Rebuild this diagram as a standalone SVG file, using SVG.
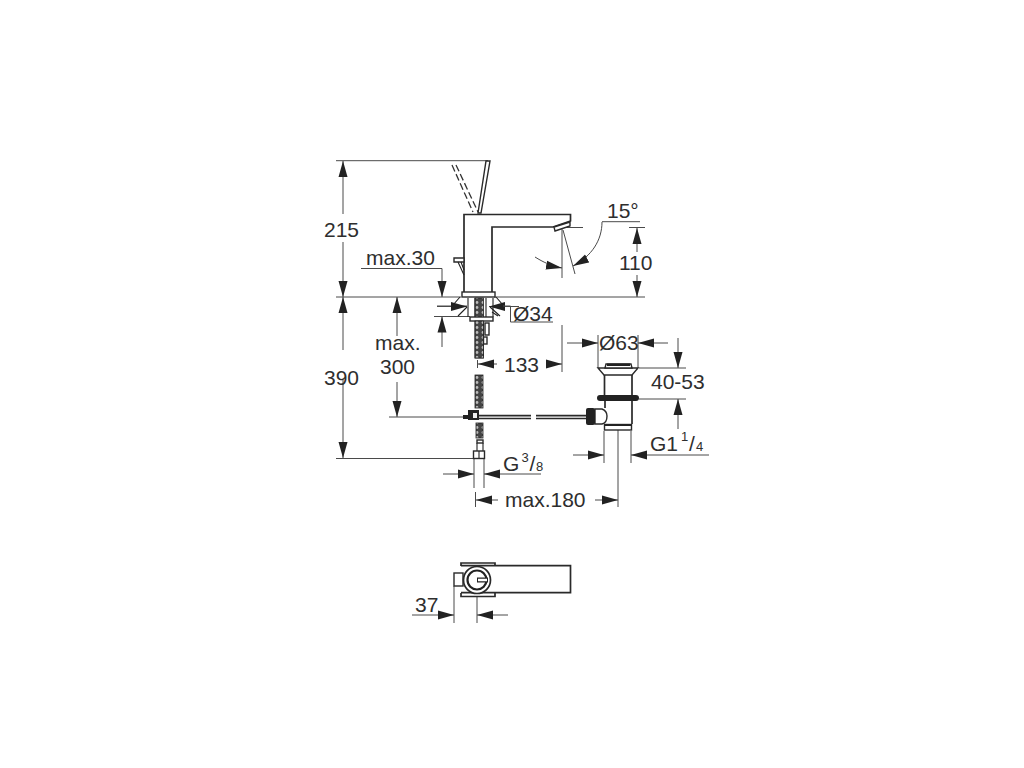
<svg xmlns="http://www.w3.org/2000/svg" width="1024" height="768" viewBox="0 0 1024 768">
<style>
.t{font-family:"Liberation Sans",Arial,sans-serif;font-size:21px;fill:#2e2e2e}
.s{font-size:13px}
.d{fill:none;stroke:#4a4a4a;stroke-width:1}
.o{fill:none;stroke:#2a2a2a;stroke-width:1.7}
.h{fill:none;stroke:#222;stroke-width:1.1}
.f{fill:#fff;stroke:#2a2a2a;stroke-width:1.4}
.b{fill:#222;stroke:none}
.a{stroke:#4a4a4a;stroke-width:1;fill:none;marker-end:url(#ar)}
</style>
<defs>
<marker id="ar" markerUnits="userSpaceOnUse" markerWidth="16" markerHeight="10" refX="16" refY="5" orient="auto"><path d="M0 .5 L16 5 L0 9.500Z" fill="#222"/></marker>
<pattern id="hose" width="6" height="5" patternUnits="userSpaceOnUse"><rect width="6" height="5" fill="#444"/><circle cx="3" cy="2.500" r="1.400" fill="#bbb"/></pattern>
</defs>
<rect width="1024" height="768" fill="#fff"/>
<g id="connectors">
<path class="d" d="M336 160.700H488M336 297H461M494 297H645M336 458.500H473"/>
<path class="a" d="M343 214V161"/><path class="a" d="M343 242V297"/>
<path class="a" d="M343 350V297"/><path class="a" d="M343 379V458"/>
<path class="d" d="M361 268.500H442"/><path class="a" d="M442 268.500V297"/>
<path class="a" d="M397 336V297"/><path class="a" d="M397 382V417"/>
<path class="d" d="M389 417H463"/>
<path class="d" d="M437 306H467M434 316.500H470"/><path class="a" d="M442 347V316.500"/>
<path class="a" d="M437 306.500H467"/><path class="a" d="M519 306.500H489"/>
<path class="d" d="M503 306H510.500V322H553"/>
<path class="d" d="M477.500 360V368M475.500 492V507M474 458V488M484 458V488"/>
<path class="a" d="M497 364H478"/>
<path class="a" d="M547 364H562"/>
<path class="d" d="M562 325V372"/>
<path class="a" d="M443 474H474"/><path class="a" d="M541 474H484"/>
<path class="a" d="M498 500H476"/><path class="a" d="M595 500H618"/>
<path class="d" d="M618 424V507"/>
<path class="d" d="M598 335V368M638 335V368"/>
<path class="a" d="M567 343H598"/><path class="a" d="M668 343H638"/>
<path class="d" d="M639 368H686M639 399H686"/>
<path class="a" d="M678 338V368"/><path class="a" d="M678 429V399"/>
<path class="d" d="M604 431V463M631 431V463"/>
<path class="a" d="M573 455H604"/><path class="a" d="M709 455H631"/>
<path class="d" d="M560 227.500H583"/>
<path class="d" d="M562 229V278M563 230L575 274"/>
<path class="a" d="M602 222C602 240 592 256 573 266"/>
<path class="d" d="M602 221.700H640"/>
<path class="a" d="M535 257C543 262 551 266 562 268"/>
<path class="d" d="M629 227.500H645"/>
<path class="a" d="M637 252V228"/><path class="a" d="M637 275V297"/>
<path class="d" d="M454 586V623M477 597V623"/>
<path class="a" d="M412 615H454"/><path class="a" d="M508 615H477"/>
</g>
<g id="faucet">
<path class="o" d="M464 293V214.500H570.500V221L553 227H492V293"/>
<path class="f" d="M554 227L570 222V226L555 231Z"/>
<path class="f" d="M478 213L486 161H490L481 213Z"/>
<path d="M452 165L473 212M456 165L478 212" fill="none" stroke="#333" stroke-width="1.300" stroke-dasharray="7 3"/>
<path class="f" d="M454 258H464V262H454Z"/>
<path class="h" d="M458 262L464 275M461 262L464 270"/>
<rect class="f" x="462" y="292" width="33" height="5"/>
</g>
<g id="mount">
<path class="h" d="M468 298V317M475 298V317M486 298V317M493 298V317"/>
<path class="h" d="M460 297L453 305M467 307L458 316M496 297L503 305M492 312L498 316M490 307L500 316"/>
<rect x="475" y="298" width="8.500" height="60" fill="url(#hose)" stroke="#222" stroke-width=".8"/>
<rect class="f" x="470" y="317" width="23" height="4"/>
<rect x="475" y="321" width="8.500" height="37" fill="url(#hose)" stroke="#222" stroke-width=".8"/>
<rect class="f" x="485" y="323" width="4" height="12"/>
<rect class="f" x="483.500" y="337" width="3.500" height="7"/>
</g>
<g id="hoses">
<rect x="475" y="375" width="8" height="33" fill="url(#hose)" stroke="#222" stroke-width=".8"/>
<rect class="b" x="463" y="415" width="6" height="4"/>
<rect class="b" x="468" y="410" width="11" height="10"/>
<rect x="473" y="413" width="4" height="5" fill="#eee"/>
<rect x="476" y="423" width="7" height="15" fill="url(#hose)" stroke="#222" stroke-width=".8"/>
<rect class="f" x="477" y="440" width="6" height="3"/>
<path class="h" d="M477 443V451M483 443V451"/>
<rect class="f" x="473.500" y="451" width="11" height="7.500"/>
<path class="h" d="M479 451V458"/>
</g>
<g id="rod">
<path class="o" d="M479 415.700H531M479 418.500H531M536 415.700H586M536 418.500H586"/>
</g>
<g id="waste">
<path class="f" d="M598 368H638L632 375H604Z"/>
<path class="f" d="M605 368L606 364H631L632 368Z"/>
<rect class="b" x="607" y="363.500" width="23" height="2.500"/>
<path class="o" d="M604.500 375V395M632 375V395"/>
<rect class="b" x="597" y="395" width="42" height="6" rx="3"/>
<path class="o" d="M605 401V408M632 401V424"/>
<path class="f" d="M595 409H602Q607 411 607 416Q607 423 602 424H595Z"/>
<rect class="b" x="586" y="408" width="9" height="17" rx="2"/>
<rect class="f" x="604.500" y="424.500" width="27" height="5.500"/>
<rect class="b" x="604.500" y="424" width="27" height="2"/>
</g>
<g id="plan">
<path class="o" d="M461 566V563H495V566M461 593V596.500H495V593"/>
<path class="o" d="M461 565.700H570.500V592.700H461"/>
<rect class="f" x="454" y="573" width="9" height="13"/>
<circle cx="477" cy="580" r="13.500" fill="#fff" stroke="#2a2a2a" stroke-width="1.700"/>
<circle cx="477" cy="580" r="9.500" fill="none" stroke="#222" stroke-width="2.200"/>
<path d="M477 580H488" stroke="#222" stroke-width="5" fill="none"/>
<path d="M478 580H487" stroke="#fff" stroke-width="2.500" fill="none"/>
</g>
<g id="labels">
<text class="t" x="324" y="237">215</text>
<text class="t" x="366" y="265">max.30</text>
<text class="t" x="607" y="218">15°</text>
<text class="t" x="619" y="270">110</text>
<text class="t" x="513" y="321">Ø34</text>
<text class="t" x="375" y="350">max.</text>
<text class="t" x="380" y="374">300</text>
<text class="t" x="324" y="385">390</text>
<text class="t" x="504" y="372">133</text>
<text class="t" x="599" y="350">Ø63</text>
<text class="t" x="651" y="389">40-53</text>
<text class="t" x="650" y="451">G1</text>
<text class="t s" x="681" y="441">1</text>
<text class="t" x="689" y="451">/</text>
<text class="t s" x="696" y="451">4</text>
<text class="t" x="503" y="471">G</text>
<text class="t s" x="521.500" y="462">3</text>
<text class="t" x="529.500" y="471">/</text>
<text class="t s" x="536" y="471">8</text>
<text class="t" x="505" y="507">max.180</text>
<text class="t" x="415" y="612">37</text>
</g>
</svg>
